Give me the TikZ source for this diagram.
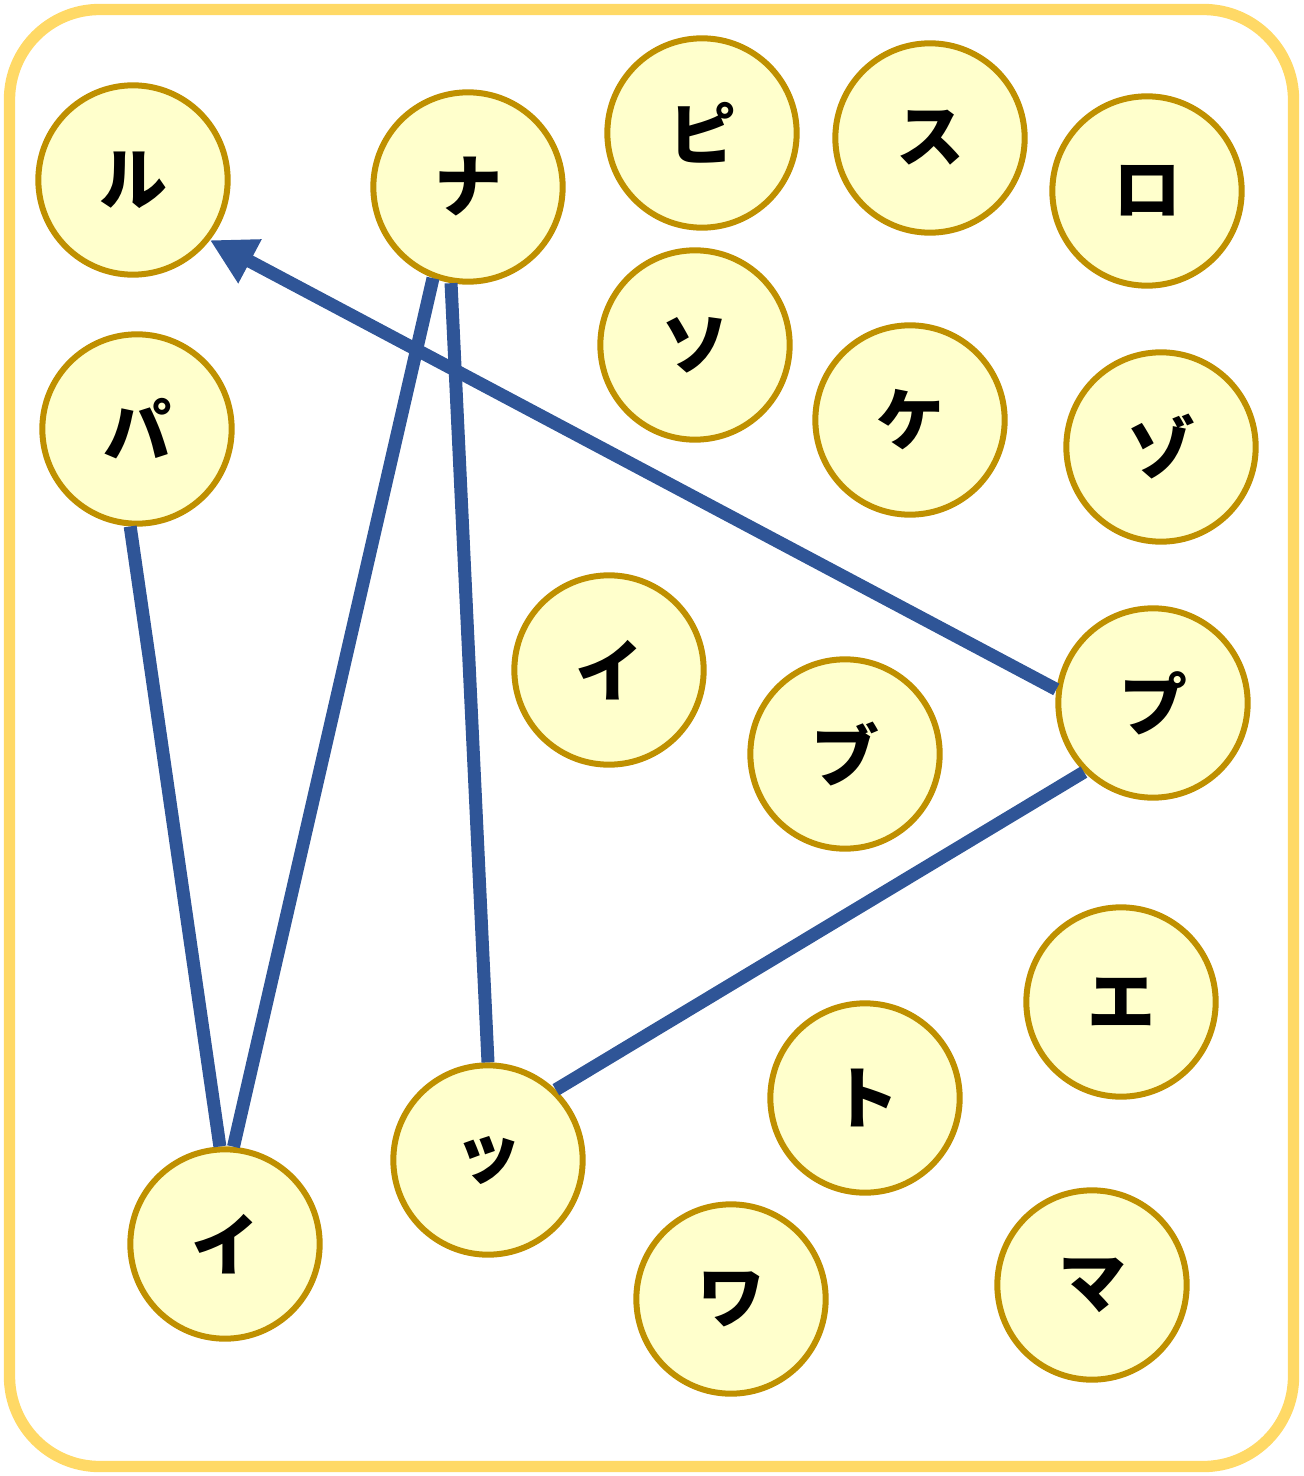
\documentclass[tikz,border=0pt]{standalone}
\usepackage{fontspec}
\newfontfamily\jp{Noto Sans CJK JP}
\usetikzlibrary{arrows.meta}
\definecolor{nodefill}{HTML}{FFFFCC}
\definecolor{nodeline}{HTML}{BF9000}
\definecolor{edgecol}{HTML}{2F5597}
\definecolor{framecol}{HTML}{FFD966}
\begin{document}
\begin{tikzpicture}[x=0.75pt,y=-0.75pt,
  kana/.style={circle, draw=nodeline, fill=nodefill, line width=4.5pt,
    minimum size=142pt, inner sep=0pt,
    font=\jp\bfseries\fontsize{51}{60}\selectfont},
  link/.style={draw=edgecol, line width=9.75pt},
  frame/.style={draw=framecol, line width=8.5pt, rounded corners=67.5pt}]
\useasboundingbox (0,0) rectangle (1303,1476);
\draw[frame] (9.5,9.5) rectangle (1293.5,1466.5);

\node[kana] (ru)  at (133,180)  {ル};
\node[kana] (na)  at (468,187)  {ナ};
\node[kana] (pi)  at (702,133)  {ピ};
\node[kana] (su)  at (930,138)  {ス};
\node[kana] (ro)  at (1147,191) {ロ};
\node[kana] (pa)  at (137,429)  {パ};
\node[kana] (so)  at (695,345)  {ソ};
\node[kana] (ke)  at (910,420)  {ケ};
\node[kana] (zo)  at (1161,447) {ゾ};
\node[kana] (i1)  at (609,670)  {イ};
\node[kana] (bu)  at (845,754)  {ブ};
\node[kana] (pu)  at (1153,703) {プ};
\node[kana] (e)   at (1121,1002) {エ};
\node[kana] (to)  at (865,1098) {ト};
\node[kana] (tsu) at (488,1160) {ッ};
\node[kana] (i2)  at (225,1244) {イ};
\node[kana] (wa)  at (731,1299) {ワ};
\node[kana] (ma)  at (1092,1285) {マ};

\draw[link] (pa.-94) -- (i2.93);
\draw[link] (na.-111) -- (i2.85);
\draw[link] (na.-100) -- (tsu.90);
\draw[link] (pu.-135) -- (tsu.46);
\draw[link,-{Triangle[length=34pt,width=35pt]}] (pu.172) -- (ru.-38);
\end{tikzpicture}
\end{document}
